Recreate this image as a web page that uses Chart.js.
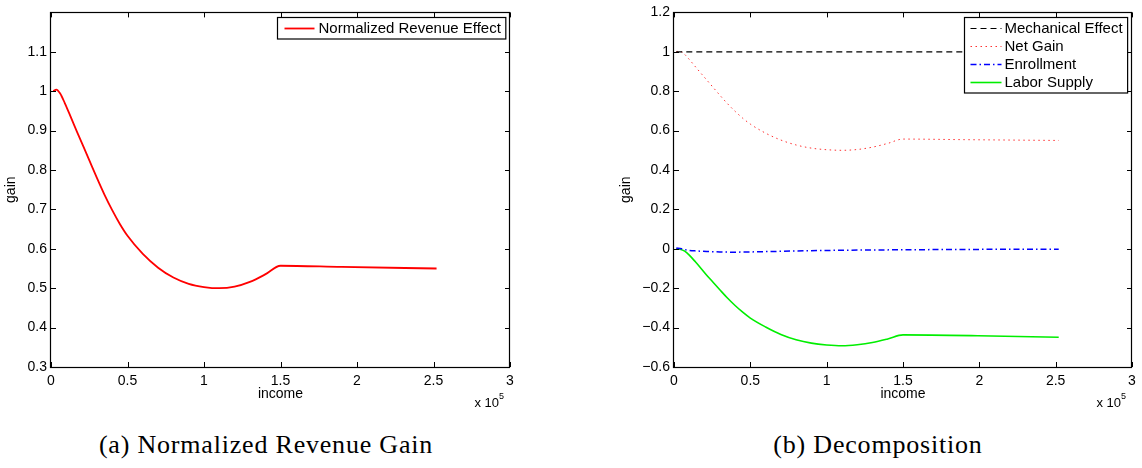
<!DOCTYPE html>
<html>
<head>
<meta charset="utf-8">
<script src="https://cdn.jsdelivr.net/npm/chart.js@4.4.1/dist/chart.umd.min.js"></script>
<style>
  body { margin: 0; background: #fff; width: 1142px; height: 468px; position: relative; overflow: hidden; }
  .panel { position: absolute; top: 0; height: 415px; }
  #panelA { left: 0; width: 540px; }
  #panelB { left: 580px; width: 562px; }
  .caption { position: absolute; top: 432px; line-height: 26px; font-family: "Liberation Serif", serif; font-size: 26px; letter-spacing: 0.8px; color: #000; white-space: nowrap; transform: translateX(-50%); }
</style>
</head>
<body>
<div class="panel" id="panelA"><canvas id="chartA"></canvas></div>
<div class="panel" id="panelB"><canvas id="chartB"></canvas></div>
<div class="caption" style="left:266px">(a) Normalized Revenue Gain</div>
<div class="caption" style="left:878px">(b) Decomposition</div>
<script>
// --- Data ---
const xTicks = [0, 50000, 100000, 150000, 200000, 250000, 300000];

const incomeGain = [1500, 3500, 6000, 9000, 12000, 15000, 18000, 21000, 25000, 30000, 35000, 40000, 45000, 50000,
  60000, 70000, 80000, 90000, 100000, 110000, 120000, 130000, 140000, 150000, 190000, 252000];
const revenueGain = [1.000, 1.004, 0.994, 0.970, 0.943, 0.915, 0.888, 0.861, 0.825, 0.780, 0.737, 0.698, 0.663, 0.633,
  0.587, 0.552, 0.527, 0.511, 0.503, 0.500, 0.504, 0.516, 0.535, 0.557, 0.554, 0.550];

const incomeMech = [1500, 252000];
const mechanical = [1, 1];

const incomeEnroll = [1500, 5000, 9000, 15000, 23000, 30000, 40000, 56000, 80000, 103000, 130000, 150000, 197000, 252000];
const enrollment = [0.004, 0.0, -0.007, -0.011, -0.014, -0.016, -0.017, -0.015, -0.011, -0.008, -0.006, -0.005, -0.003, -0.002];

const incomeLabor = [1500, 4000, 7000, 10000, 14000, 18000, 21000, 25000, 30000, 35000, 40000, 45000, 50000,
  60000, 70000, 80000, 90000, 100000, 110000, 120000, 130000, 140000, 150000, 199000, 252000];
const laborSupply = [0.0, -0.002, -0.012, -0.032, -0.066, -0.102, -0.130, -0.165, -0.208, -0.250, -0.288, -0.322, -0.352,
  -0.397, -0.435, -0.462, -0.479, -0.488, -0.492, -0.487, -0.476, -0.458, -0.437, -0.441, -0.449];

const FONT = '"Liberation Sans", Arial, Helvetica, sans-serif';

const pts = (xs, ys) => xs.map((x, i) => ({ x, y: ys[i] }));
const fmt = v => String(Number(v.toFixed(1))).replace('-', '\u2212');

// --- MATLAB-style box, inner ticks, legend and labels ---
const matlabAxes = {
  id: 'matlabAxes',
  afterDraw(chart, args, opts) {
    const { ctx, chartArea: a, scales } = chart;
    ctx.save();
    ctx.strokeStyle = '#000';
    ctx.lineWidth = 1;

    // inner tick marks on all four sides
    ctx.beginPath();
    scales.x.ticks.forEach(t => {
      const px = Math.round(scales.x.getPixelForValue(t.value)) + 0.5;
      ctx.moveTo(px, a.bottom); ctx.lineTo(px, a.bottom - 5);
      ctx.moveTo(px, a.top); ctx.lineTo(px, a.top + 5);
    });
    scales.y.ticks.forEach(t => {
      const py = Math.round(scales.y.getPixelForValue(t.value)) + 0.5;
      ctx.moveTo(a.left, py); ctx.lineTo(a.left + 5, py);
      ctx.moveTo(a.right, py); ctx.lineTo(a.right - 5, py);
    });
    ctx.stroke();

    // box
    ctx.lineWidth = 1.2;
    ctx.strokeRect(Math.round(a.left) - 0.5, Math.round(a.top) + 0.5, Math.round(a.right - a.left), Math.round(a.bottom - a.top));

    // legend
    ctx.font = '15px ' + FONT;
    ctx.textBaseline = 'middle';
    const sets = chart.data.datasets;
    const textW = Math.max(...sets.map(d => ctx.measureText(d.label).width));
    const lineLen = opts.lineLen;
    const boxW = opts.padL + lineLen + opts.gap + textW + 5;
    const boxH = 18 * (sets.length - 1) + 21.5;
    const bx = Math.round(a.right - 5 - boxW) + 0.5;
    const by = Math.round(a.top + 5) + 0.5;
    ctx.fillStyle = '#fff';
    ctx.fillRect(bx, by, boxW, boxH);
    ctx.lineWidth = 1.2;
    ctx.strokeRect(bx, by, boxW, boxH);
    sets.forEach((d, i) => {
      const cy = by + 11 + 18 * i;
      ctx.save();
      ctx.strokeStyle = d.borderColor;
      ctx.lineWidth = d.borderWidth;
      ctx.setLineDash(d.borderDash || []);
      ctx.beginPath();
      ctx.moveTo(bx + opts.padL, cy);
      ctx.lineTo(bx + opts.padL + lineLen, cy);
      ctx.stroke();
      ctx.restore();
      ctx.fillStyle = '#000';
      ctx.textAlign = 'left';
      ctx.fillText(d.label, bx + opts.padL + lineLen + opts.gap, cy + 0.5);
    });

    // axis titles
    ctx.fillStyle = '#000';
    ctx.font = '14px ' + FONT;
    ctx.textAlign = 'center';
    ctx.textBaseline = 'alphabetic';
    ctx.fillText('income', (a.left + a.right) / 2, a.bottom + 31);
    ctx.save();
    ctx.translate(a.left - opts.yTitleOffset, (a.top + a.bottom) / 2);
    ctx.rotate(-Math.PI / 2);
    ctx.fillText('gain', 0, 0);
    ctx.restore();

    // exponent
    ctx.textAlign = 'right';
    ctx.font = '9px ' + FONT;
    const w5 = ctx.measureText('5').width;
    ctx.fillText('5', a.right - 6, a.bottom + 32);
    ctx.font = '13px ' + FONT;
    ctx.fillText('x 10', a.right - 6 - w5, a.bottom + 39.5);
    ctx.restore();
  }
};

function makeChart(canvasId, datasets, yMin, yMax, yStep, yHide, leftW, rightPad, legendOpts) {
  return new Chart(document.getElementById(canvasId), {
    type: 'line',
    data: { datasets },
    options: {
      responsive: true,
      maintainAspectRatio: false,
      animation: false,
      layout: { padding: { left: 0, right: rightPad, top: 5, bottom: 0 } },
      elements: { point: { radius: 0 }, line: { cubicInterpolationMode: 'monotone' } },
      plugins: { legend: { display: false }, tooltip: { enabled: false }, matlabAxes: legendOpts },
      scales: {
        x: {
          type: 'linear', min: 0, max: 300000,
          afterBuildTicks: s => { s.ticks = xTicks.map(v => ({ value: v })); },
          afterFit: s => { s.height = 48; },
          grid: { display: false, drawTicks: false },
          border: { display: false },
          ticks: { autoSkip: false, maxRotation: 0, padding: 6, color: '#000', font: { family: FONT, size: 14 }, callback: v => fmt(v / 100000) }
        },
        y: {
          type: 'linear', min: yMin, max: yMax,
          ticks: { stepSize: yStep, autoSkip: false, padding: 4, color: '#000', font: { family: FONT, size: 14 },
            callback: v => (yHide !== null && Math.abs(v - yHide) < 1e-6) ? '' : fmt(v) },
          afterFit: s => { s.width = leftW; },
          grid: { display: false, drawTicks: false },
          border: { display: false }
        }
      }
    },
    plugins: [matlabAxes]
  });
}

makeChart('chartA', [
  { label: 'Normalized Revenue Effect', data: pts(incomeGain, revenueGain), borderColor: '#ff0000', borderWidth: 1.8, fill: false }
], 0.3, 1.2, 0.1, 1.2, 51, 30, { lineLen: 30, padL: 7, gap: 4, yTitleOffset: 36 });

makeChart('chartB', [
  { label: 'Mechanical Effect', data: pts(incomeMech, mechanical), borderColor: '#000000', borderWidth: 1.2, borderDash: [6, 4], fill: false },
  { label: 'Net Gain', data: pts(incomeGain, revenueGain), borderColor: '#ff3030', borderWidth: 1, borderDash: [1.5, 3.5], fill: false },
  { label: 'Enrollment', data: pts(incomeEnroll, enrollment), borderColor: '#0000ff', borderWidth: 1.5, borderDash: [6, 3, 1.5, 3], fill: false },
  { label: 'Labor Supply', data: pts(incomeLabor, laborSupply), borderColor: '#00ee00', borderWidth: 1.6, fill: false }
], -0.6, 1.2, 0.2, null, 94, 10, { lineLen: 31, padL: 6, gap: 3, yTitleOffset: 44 });
</script>
</body>
</html>
